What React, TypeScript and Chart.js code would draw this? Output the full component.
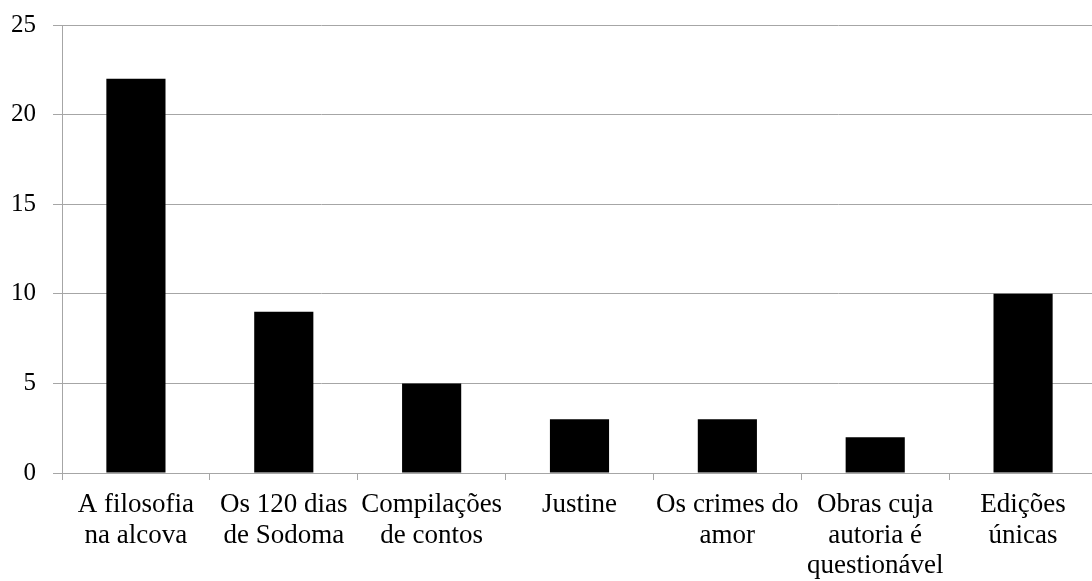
import React, { useEffect, useRef } from "react";
import { Chart, registerables } from "chart.js";

Chart.register(...registerables);

const categories: string[][] = [
  ["A filosofia", "na alcova"],
  ["Os 120 dias", "de Sodoma"],
  ["Compilações", "de contos"],
  ["Justine"],
  ["Os crimes do", "amor"],
  ["Obras cuja", "autoria é", "questionável"],
  ["Edições", "únicas"],
];
const values: number[] = [22, 9, 5, 3, 3, 2, 10];
const yTicks = { min: 0, max: 25, step: 5 };

const FONT = "Liberation Serif";
const GRID = "#a6a6a6";

export default function App() {
  const ref = useRef<HTMLCanvasElement | null>(null);
  useEffect(() => {
    let chart: Chart | null = null;
    let cancelled = false;
    const build = () => {
      if (cancelled || !ref.current) return;
      chart = new Chart(ref.current, {
        type: "bar",
        data: {
          labels: categories,
          datasets: [
            {
              data: values,
              backgroundColor: "#000000",
              borderWidth: 0,
              barPercentage: 0.4,
              categoryPercentage: 1,
            },
          ],
        },
        options: {
          responsive: false,
          animation: false,
          layout: { padding: { top: 25, right: 3, left: 0, bottom: 0 } },
          plugins: { legend: { display: false }, tooltip: { enabled: false } },
          scales: {
            x: {
              grid: {
                offset: true,
                drawOnChartArea: false,
                drawTicks: true,
                tickLength: 7,
                color: GRID,
              },
              border: { color: GRID, width: 1 },
              ticks: {
                color: "#000000",
                font: { family: FONT, size: 27, lineHeight: "30.5px" },
                padding: 10,
                maxRotation: 0,
                autoSkip: false,
              },
              afterFit: (s: any) => {
                s.height = 108;
              },
            },
            y: {
              min: yTicks.min,
              max: yTicks.max,
              grid: { color: GRID, tickLength: 9 },
              border: { color: GRID, width: 1 },
              ticks: {
                stepSize: yTicks.step,
                color: "#000000",
                font: { family: FONT, size: 25 },
                padding: 17,
              },
              afterFit: (s: any) => {
                s.width = 62;
                s.paddingTop = 12;
                s.paddingBottom = 12;
              },
            },
          },
        },
      });
    };
    const fonts: any = (document as any).fonts;
    const go = () => setTimeout(build, 30);
    if (fonts && fonts.ready) {
      Promise.all([
        fonts.load ? fonts.load("27px 'Liberation Serif'").catch(() => null) : null,
        fonts.ready,
      ]).then(go, go);
    } else {
      go();
    }
    return () => {
      cancelled = true;
      if (chart) chart.destroy();
    };
  }, []);
  return (
    <div
      style={{
        position: "fixed",
        left: 0,
        top: 0,
        width: 1092,
        height: 581,
        overflow: "hidden",
        background: "#fff",
      }}
    >
      <canvas
        ref={ref}
        width={1100}
        height={581}
        style={{ position: "absolute", left: 0, top: 0, display: "block", width: 1100, height: 581 }}
      />
    </div>
  );
}
